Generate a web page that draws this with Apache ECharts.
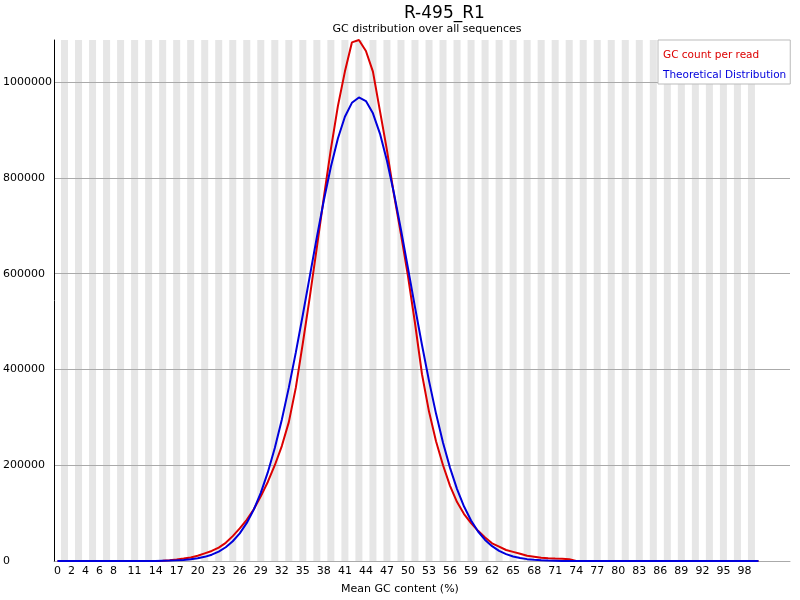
<!DOCTYPE html>
<html>
<head>
<meta charset="utf-8">
<script src="https://cdn.jsdelivr.net/npm/echarts@6/dist/echarts.min.js"></script>
<style>
  html, body { margin: 0; padding: 0; background: #fff; }
  #main { width: 800px; height: 600px; }
</style>
</head>
<body>
<div id="main"></div>
<script>
// x categories: one per GC %, plot runs a few columns past 100 like FastQC
var categories = Array.from({length: 105}, function (_, i) { return String(i); });
var tickLabels = ['0','2','4','6','8','11','14','17','20','23','26','29','32','35','38','41','44','47',
                  '50','53','56','59','62','65','68','71','74','77','80','83','86','89','92','95','98'];

// GC count per read, 0..100 %
var gcCount = [
  0,0,0,0,0,0,0,0,0,0,0,0,0,0,0,
  500,1500,3000,5000,7500,11000,16000,21000,28000,38000,
  52000,68000,86000,108000,135000,165000,200000,240000,290000,362000,
  455000,552000,655000,760000,860000,950000,1022000,1083000,1088000,1065000,
  1022000,940000,858000,765000,682000,595000,497000,390000,312000,250000,
  200000,157000,123000,98000,79000,63000,49000,37000,30000,23000,
  19000,15000,11000,9000,7000,5600,5000,4500,3500,
  0,0,0,0,0,0,0,0,0,0,0,0,0,0,0,0,0,0,0,0,0,0,0,0,0,0,0
];

// Theoretical distribution, 0..100 %
var theoretical = [
  0,0,0,0,0,0,0,0,0,0,0,0,0,0,0,
  500,800,1400,2300,3700,5600,8700,13200,19700,28700,
  41200,57700,79500,107300,142300,185000,235900,295000,362000,435600,
  514200,595400,676200,753300,823200,882300,927700,956800,968000,960400,
  934900,892600,836000,768000,692000,611600,530300,451000,376200,307800,
  247100,194500,150200,113800,84500,61600,44000,30900,21200,14300,
  9500,6200,3900,2500,1500,900,500,
  0,0,0,0,0,0,0,0,0,0,0,0,0,0,0,0,0,0,0,0,0,0,0,0,0,0,0,0,0
];

var yMax = 1088000;

// grey background stripes on odd columns up to 99
var stripes = categories.map(function (c, i) {
  return (i % 2 === 1 && i < 100) ? yMax : '-';
});

var font = 'DejaVu Sans';
var myChart = echarts.init(document.getElementById('main'));
var option = {
    animation: false,
    textStyle: { fontFamily: font },
    title: [{
        text: 'R-495_R1',
        left: 399,
        top: 0,
        textStyle: { fontSize: 17, fontWeight: 'normal', color: '#000', fontFamily: font }
    }, {
        text: 'GC distribution over all sequences',
        left: 422,
        textAlign: 'center',
        top: 19,
        textStyle: { fontSize: 11, fontWeight: 'normal', color: '#000', fontFamily: font }
    }],
    legend: {
        orient: 'vertical',
        left: 658,
        top: 40,
        padding: [9, 4, 3, 0],
        itemGap: 8,
        itemWidth: 0,
        itemHeight: 12,
        icon: 'rect',
        borderColor: '#bbb',
        borderWidth: 1,
        backgroundColor: '#fff',
        selectedMode: false,
        textStyle: { fontSize: 10.5, fontFamily: font },
        data: [
            { name: 'GC count per read', textStyle: { color: '#dc0000' } },
            { name: 'Theoretical Distribution', textStyle: { color: '#0000dc' } }
        ]
    },
    grid: { left: 54, right: 10, top: 40, bottom: 39 },
    xAxis: {
        type: 'category',
        data: categories,
        boundaryGap: true,
        axisTick: { show: false },
        axisLine: { lineStyle: { color: '#aaa' } },
        axisLabel: {
            interval: function (idx, val) { return tickLabels.indexOf(val) >= 0; },
            color: '#000',
            fontSize: 11,
            margin: 5
        },
        splitLine: { show: false }
    },
    yAxis: {
        type: 'value',
        min: 0,
        max: yMax,
        interval: 200000,
        z: 3,
        axisLine: { show: true, lineStyle: { color: '#000' } },
        axisTick: { show: false },
        axisLabel: {
            align: 'left',
            margin: 51,
            color: '#000',
            fontSize: 11,
            showMaxLabel: false,
            formatter: function (v) { return String(v); }
        },
        splitLine: { show: true, showMaxLine: false, lineStyle: { color: '#aaa' } }
    },
    graphic: [{
        type: 'text',
        left: 'center',
        top: 584,
        style: { text: 'Mean GC content (%)', fill: '#000', font: '11px "DejaVu Sans"' }
    }],
    series: [{
        name: 'stripes',
        type: 'bar',
        data: stripes,
        barWidth: 7.01,
        barGap: '0%',
        barCategoryGap: '0%',
        silent: true,
        z: 1,
        itemStyle: { color: '#e6e6e6' }
    }, {
        name: 'GC count per read',
        type: 'line',
        data: gcCount,
        showSymbol: false,
        symbol: 'none',
        z: 5,
        lineStyle: { color: '#dc0000', width: 2 },
        itemStyle: { color: '#dc0000' }
    }, {
        name: 'Theoretical Distribution',
        type: 'line',
        data: theoretical,
        showSymbol: false,
        symbol: 'none',
        z: 6,
        lineStyle: { color: '#0000dc', width: 2 },
        itemStyle: { color: '#0000dc' }
    }]
};
myChart.setOption(option);
</script>
</body>
</html>
